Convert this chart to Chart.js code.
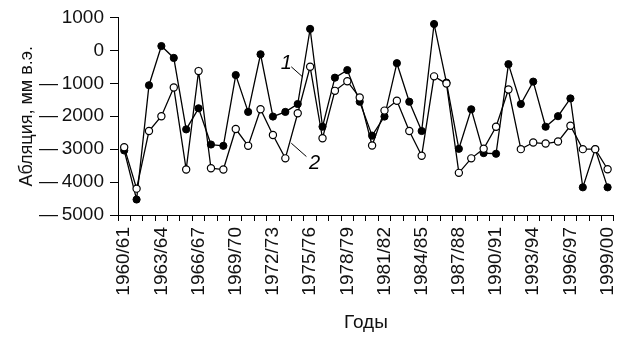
<!DOCTYPE html>
<html>
<head>
<meta charset="utf-8">
<script src="https://cdn.jsdelivr.net/npm/chart.js"></script>
<style>
  html, body { margin: 0; padding: 0; background: #fff; }
  #wrap { width: 619px; height: 337px; }
</style>
</head>
<body>
<div id="wrap"><canvas id="chart"></canvas></div>
<script>
var years = ['1960/61','1961/62','1962/63','1963/64','1964/65','1965/66','1966/67','1967/68','1968/69','1969/70',
  '1970/71','1971/72','1972/73','1973/74','1974/75','1975/76','1976/77','1977/78','1978/79','1979/80',
  '1980/81','1981/82','1982/83','1983/84','1984/85','1985/86','1986/87','1987/88','1988/89','1989/90',
  '1990/91','1991/92','1992/93','1993/94','1994/95','1995/96','1996/97','1997/98','1998/99','1999/00'];

// 1 - filled circles
var series1 = [-3040, -4530, -1060, 130, -230, -2400, -1760, -2860, -2900, -750,
  -1870, -120, -2010, -1870, -1630, 650, -2320, -830, -600, -1560,
  -2590, -2010, -390, -1560, -2450, 800, -980, -2990, -1790, -3120,
  -3140, -420, -1630, -950, -2320, -2000, -1460, -4160, -3000, -4160];

// 2 - open circles
var series2 = [-2940, -4200, -2450, -2000, -1130, -3620, -630, -3580, -3620, -2390,
  -2900, -1790, -2570, -3280, -1910, -500, -2670, -1230, -940, -1430,
  -2890, -1830, -1530, -2450, -3200, -790, -1010, -3720, -3280, -2990,
  -2320, -1190, -3000, -2800, -2830, -2770, -2290, -3000, -3000, -3610];

var yTicks = [1000, 0, -1000, -2000, -3000, -4000, -5000];

var font = 'Liberation Sans, Arial, sans-serif';

var labelsPlugin = {
  id: 'curveLabels',
  afterDatasetsDraw: function(chart) {
    var ctx = chart.ctx;
    var x = chart.scales.x;
    var y = chart.scales.y;
    ctx.save();
    ctx.strokeStyle = '#000';
    ctx.lineWidth = 1;
    ctx.beginPath();
    ctx.moveTo(x.getPixelForValue(13.48), y.getPixelForValue(-500));
    ctx.lineTo(x.getPixelForValue(14.41), y.getPixelForValue(-810));
    ctx.moveTo(x.getPixelForValue(13.48), y.getPixelForValue(-2820));
    ctx.lineTo(x.getPixelForValue(14.7), y.getPixelForValue(-3225));
    ctx.stroke();
    ctx.fillStyle = '#000';
    ctx.font = 'italic 20px ' + font;
    ctx.textAlign = 'center';
    ctx.textBaseline = 'middle';
    ctx.fillText('1', x.getPixelForValue(13.07), y.getPixelForValue(-400));
    ctx.fillText('2', x.getPixelForValue(15.36), y.getPixelForValue(-3420));
    ctx.restore();
  }
};

var chart = new Chart(document.getElementById('chart'), {
  type: 'line',
  data: {
    labels: years,
    datasets: [{
      label: '1',
      data: series1,
      order: 2,
      borderColor: '#000',
      borderWidth: 1.3,
      backgroundColor: '#000',
      pointBackgroundColor: '#000',
      pointBorderColor: '#000',
      pointRadius: 3.6,
      pointBorderWidth: 1,
      tension: 0
    }, {
      label: '2',
      data: series2,
      order: 1,
      borderColor: '#000',
      borderWidth: 1.3,
      backgroundColor: '#fff',
      pointBackgroundColor: '#fff',
      pointBorderColor: '#000',
      pointRadius: 3.6,
      pointBorderWidth: 1.2,
      tension: 0
    }]
  },
  options: {
    responsive: true,
    maintainAspectRatio: false,
    animation: false,
    layout: { padding: { top: 8, right: 3, left: 0, bottom: 0 } },
    plugins: {
      legend: { display: false },
      tooltip: { enabled: false }
    },
    scales: {
      x: {
        offset: true,
        afterFit: function(scale) {
          scale.height = 122;
          scale.paddingLeft = 0;
          scale.paddingRight = 0;
        },
        grid: { display: true, offset: true, drawOnChartArea: false, tickLength: 6, color: '#000' },
        border: { display: true, color: '#000', width: 1 },
        ticks: {
          autoSkip: false,
          maxRotation: 90,
          minRotation: 90,
          padding: 6,
          color: '#111',
          font: { family: font, size: 19 },
          callback: function(v, i) { return i % 3 === 0 ? years[i] : ''; }
        },
        title: { display: true, text: 'Годы', color: '#111', font: { family: font, size: 19 }, padding: { top: 2, bottom: 3 } }
      },
      y: {
        min: -5000,
        max: 1000,
        afterFit: function(scale) {
          scale.width = 118;
        },
        afterBuildTicks: function(scale) {
          scale.ticks = yTicks.map(function(v) { return { value: v }; });
        },
        grid: { display: true, drawOnChartArea: false, tickLength: 8, color: '#000' },
        border: { display: true, color: '#000', width: 1 },
        ticks: {
          padding: 6,
          color: '#111',
          font: { family: font, size: 19 },
          callback: function(v) { return v < 0 ? '\u2014\u2009' + Math.abs(v) : String(v); }
        },
        title: { display: true, text: 'Абляция, мм в.э.', color: '#111', font: { family: font, size: 18 }, padding: { top: 16, bottom: 4 } }
      }
    }
  },
  plugins: [labelsPlugin]
});
</script>
</body>
</html>
